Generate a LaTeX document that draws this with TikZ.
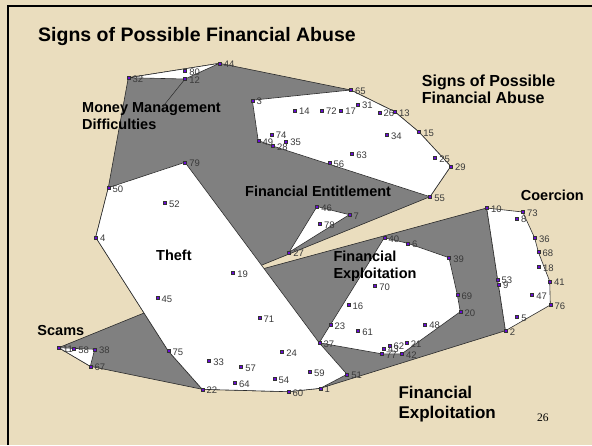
\documentclass[tikz,border=0pt]{standalone}
\usepackage{fontspec}
\setmainfont{Liberation Sans}
\newfontfamily\pagefont{Liberation Serif}
\usetikzlibrary{backgrounds}
\usepackage{xcolor}
\definecolor{paper}{HTML}{EADDBE}
\definecolor{hull}{HTML}{808080}
\definecolor{ptfill}{HTML}{6A0AD8}
\definecolor{ptnum}{HTML}{3A3A3A}
\definecolor{edge}{HTML}{2B2B2B}

\tikzset{
	ptmark/.style={rectangle, draw=black!80, fill=ptfill, line width=0.3pt, minimum size=3pt, inner sep=0pt},
	ptlabel/.style={font=\fontsize{9.5}{10}\selectfont, text=ptnum, inner sep=0pt, xshift=2.5pt, yshift=-1.3pt},
	outerhull/.style={fill=hull, draw=edge, line width=0.6pt, line join=round},
	innerhull/.style={fill=white, draw=edge, line width=0.6pt, line join=round},
	clustername/.style={font=\bfseries\fontsize{14.5}{17}\selectfont, align=left, inner sep=0pt},
}

% point map: number/x/y (pixels, y downwards)
\def\ptlist{1/320.3/388.3, 2/505.5/330.7, 3/252.3/100.2, 4/95.7/237.3, 5/517/316.7,
	6/407.7/243.3, 7/349.3/214.7, 8/516.7/218.3, 9/498.7/284.3, 10/486.7/208,
	11/58.7/347.7, 12/185/79, 13/394.7/111.7, 14/294.7/110.3, 15/419/132,
	16/348.3/304.7, 17/341/110.3, 18/538.7/266.7, 19/233/272.7, 20/460.3/311.7,
	21/406.5/342.7, 22/202.3/389.3, 23/330.2/324.8, 24/282/351.7, 25/435/157.7,
	26/379.3/112.3, 27/289/252.3, 28/272.7/146, 29/450.7/166.3, 31/357.7/104.3,
	32/128.3/77.7, 33/209/360.7, 34/386.7/135, 35/286/141.3, 36/534.7/238,
	37/319.2/342.8, 38/94.7/349.3, 39/449/257.7, 40/384.3/237.7, 41/549.7/281.3,
	42/401.8/353.8, 43/383.7/348.3, 44/219.5/63.3, 45/157.3/297.5, 46/317/206.5,
	47/532/294.7, 48/425/324.3, 49/258.2/140.5, 50/108.3/187.7, 51/347/374.3,
	52/164.7/202.7, 53/497.3/279.3, 54/274.3/379, 55/430/196.7, 56/329.3/163,
	57/241/366.7, 58/74/348.7, 59/309.7/371.7, 60/288.3/391.7, 61/358/330.7,
	62/389.3/345.3, 63/352/153.7, 64/234.7/383, 65/350.7/90, 67/90.3/366.3,
	68/538.3/252, 69/457.3/294.7, 70/375/286, 71/259.3/318, 72/321.7/110.3,
	73/522.7/212, 74/271.5/134.3, 75/168.3/351, 76/550.3/305, 77/381.7/353.8,
	78/319.7/223.7, 79/185/162.3, 80/185/71}

\begin{document}
\begin{tikzpicture}[x=1pt, y=-1pt, background rectangle/.style={fill=paper}, show background rectangle, inner frame sep=0pt]
	\useasboundingbox (0,0) rectangle (592,445);
	\draw [line width=1.8pt] (8.3,445) -- (8.3,5.8) -- (592,5.8);
	\foreach \n/\x/\y in \ptlist {\coordinate (c\n) at (\x,\y);}
	%
	% upper level clusters
	\draw [outerhull] (c32) -- (c44) -- (c65) -- (c13) -- (c15) -- (c29) -- (c55) -- (c11) -- (c67) -- (c22) -- (c75) -- (c4) -- (c50) -- cycle;
	\draw [outerhull] (c45) -- (c10) -- (c2) -- (c1) -- (c60) -- (c22) -- cycle;
	%
	% clusters
	\draw [innerhull] (c4) -- (c50) -- (c79) -- (c37) -- (c51) -- (c1) -- (c60) -- (c22) -- (c75) -- cycle;
	\draw [innerhull] (c3) -- (c65) -- (c13) -- (c15) -- (c29) -- (c55) -- (c28) -- (c49) -- cycle;
	\draw [innerhull] (c32) -- (c44) -- (c12) -- cycle;
	\draw [innerhull] (c46) -- (c7) -- (c27) -- cycle;
	\draw [innerhull] (c40) -- (c6) -- (c39) -- (c69) -- (c20) -- (c42) -- (c77) -- (c37) -- cycle;
	\draw [innerhull] (c10) -- (c73) -- (c36) -- (c68) -- (c41) -- (c76) -- (c2) -- cycle;
	\draw [innerhull] (c11) -- (c38) -- (c67) -- cycle;
	%
	\foreach \n/\x/\y in \ptlist {\node [ptmark, label={[ptlabel]right:\n}] (p\n) at (c\n) {};}
	%
	\node (title) [anchor=base west, inner sep=0pt, font=\bfseries\fontsize{19.5}{22}\selectfont] at (38,41.7) {Signs of Possible Financial Abuse};
	\node (money) [clustername, anchor=north west] at (82,102.6) {Money Management\\Difficulties};
	\coordinate (moneytip) at (163.3,106);
	\draw [edge, line width=0.5pt] (p12) -- (moneytip);
	\node (signs) [clustername, anchor=north west, font=\bfseries\fontsize{16}{16.6}\selectfont] at (421.7,75) {Signs of Possible\\Financial Abuse};
	\node (entitle) [clustername, anchor=base west] at (245,196.7) {Financial Entitlement};
	\node (theft) [clustername, anchor=base west] at (156,260.7) {Theft};
	\node (exploitin) [clustername, anchor=north west, font=\bfseries\fontsize{14.5}{17.6}\selectfont] at (333.3,250.3) {Financial\\Exploitation};
	\node (coerce) [clustername, anchor=base west] at (520.7,200.7) {Coercion};
	\node (scams) [clustername, anchor=base west] at (37.3,335) {Scams};
	\node (exploitout) [clustername, anchor=north west, font=\bfseries\fontsize{17}{20.6}\selectfont] at (398.3,385.5) {Financial\\Exploitation};
	\node (slide) [anchor=base west, inner sep=0pt, font=\pagefont\fontsize{11.5}{12}\selectfont] at (537,421.7) {26};
\end{tikzpicture}
\end{document}
